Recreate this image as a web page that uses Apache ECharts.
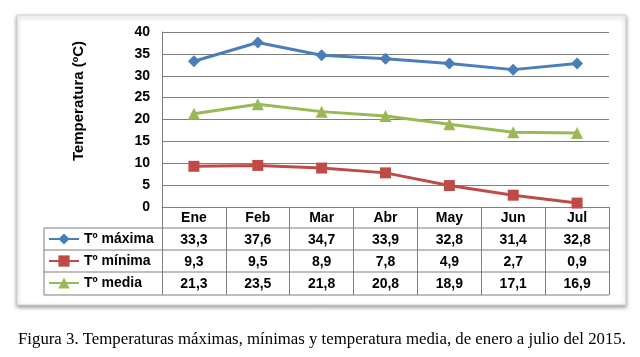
<!DOCTYPE html>
<html><head><meta charset="utf-8">
<script src="https://cdn.jsdelivr.net/npm/echarts@6/dist/echarts.min.js"></script>
<style>html,body{margin:0;padding:0;background:#fff}#c{width:640px;height:357px}</style>
</head><body><div id="c"></div>
<script>
const months = ['Ene','Feb','Mar','Abr','May','Jun','Jul'];
const tMax = [33.3, 37.6, 34.7, 33.9, 32.8, 31.4, 32.8];
const tMin = [9.3, 9.5, 8.9, 7.8, 4.9, 2.7, 0.9];
const tMed = [21.3, 23.5, 21.8, 20.8, 18.9, 17.1, 16.9];
const seriesNames = ['T\u00ba m\u00e1xima', 'T\u00ba m\u00ednima', 'T\u00ba media'];
const yTitle = 'Temperatura (\u00baC)';
const caption = 'Figura 3. Temperaturas m\u00e1ximas, m\u00ednimas y temperatura media, de enero a julio del 2015.';

const fmt = v => v.toFixed(1).replace('.', ',');
const gridCol = '#7f7f7f';
const font = 'Liberation Sans, Arial, sans-serif';

const chart = echarts.init(document.getElementById('c'), null, {renderer: 'canvas'});
const tableLines = [228, 250, 272, 295].map(y => ({
  type: 'line', shape: {x1: 44, y1: y, x2: 609, y2: y},
  style: {stroke: gridCol, lineWidth: 1}, z: 5
}));
tableLines.push({type: 'line', shape: {x1: 44, y1: 228, x2: 44, y2: 295}, style: {stroke: gridCol, lineWidth: 1}, z: 5});

chart.setOption({
  animation: false,
  grid: {left: 162, right: 31, top: 32, bottom: 150, containLabel: false},
  legend: {
    orient: 'vertical', left: 48, top: 232, padding: 0,
    itemWidth: 30, itemHeight: 14, itemGap: 8,
    textStyle: {fontFamily: font, fontWeight: 'bold', fontSize: 14, color: '#000'},
    data: seriesNames
  },
  xAxis: {
    type: 'category', data: months, boundaryGap: true,
    axisLine: {show: true, lineStyle: {color: gridCol, width: 1}},
    axisTick: {show: true, length: 88, lineStyle: {color: gridCol, width: 1}},
    axisLabel: {
      margin: 0, interval: 0,
      fontFamily: font, fontWeight: 'bold', fontSize: 14, color: '#000',
      lineHeight: 22,
      formatter: (v, i) => [v, fmt(tMax[i]), fmt(tMin[i]), fmt(tMed[i])].join('\n')
    }
  },
  yAxis: {
    type: 'value', min: 0, max: 40, interval: 5,
    axisLine: {show: true, lineStyle: {color: gridCol, width: 1}},
    axisTick: {show: false},
    splitLine: {show: true, lineStyle: {color: gridCol, width: 1}},
    axisLabel: {margin: 12, fontFamily: font, fontWeight: 'bold', fontSize: 14, color: '#000'}
  },
  series: [
    {name: seriesNames[0], type: 'line', data: tMax, symbol: 'diamond', symbolSize: 12,
     itemStyle: {color: '#4a7ebb'}, lineStyle: {color: '#4a7ebb', width: 3}},
    {name: seriesNames[1], type: 'line', data: tMin, symbol: 'rect', symbolSize: 11,
     itemStyle: {color: '#be4b48'}, lineStyle: {color: '#be4b48', width: 3}},
    {name: seriesNames[2], type: 'line', data: tMed, symbol: 'triangle', symbolSize: 12,
     itemStyle: {color: '#98b954'}, lineStyle: {color: '#98b954', width: 3}}
  ],
  graphic: [
    {type: 'rect', shape: {x: 17, y: 15, width: 609, height: 290}, z: -10,
     style: {fill: '#fff', stroke: '#d0d0d0', lineWidth: 1, shadowBlur: 4, shadowColor: 'rgba(0,0,0,0.4)', shadowOffsetX: 0, shadowOffsetY: 2}},
    ...tableLines,
    {type: 'text', x: 79, y: 101, rotation: Math.PI / 2,
     style: {text: yTitle, fontFamily: font, fontWeight: 'bold', fontSize: 15, fill: '#000', align: 'center', verticalAlign: 'middle'}},
    {type: 'text', left: 18, top: 331,
     style: {text: caption, fontFamily: 'Liberation Serif, Times New Roman, serif', fontSize: 16.8, fill: '#000'}}
  ]
});
</script></body></html>
